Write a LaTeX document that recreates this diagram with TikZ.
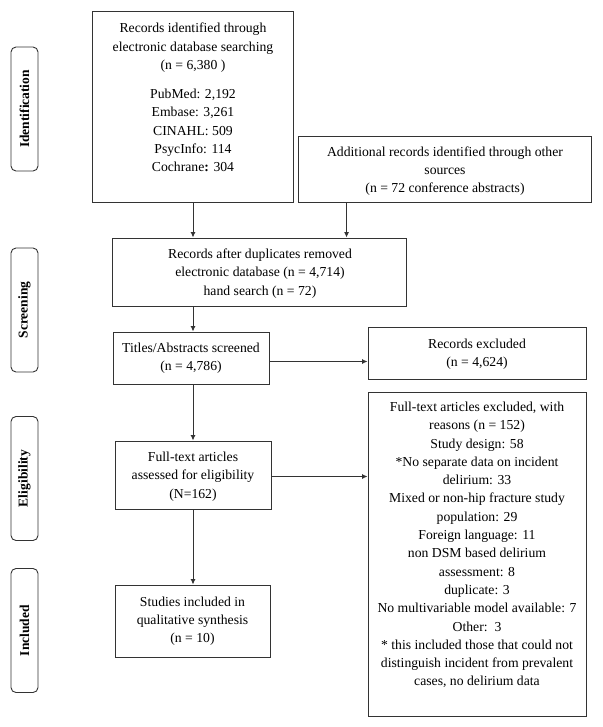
\documentclass[tikz,border=0pt]{standalone}
\usepackage{fontspec}
\setmainfont{Liberation Serif}
\usetikzlibrary{arrows.meta,fit}
\definecolor{lc}{HTML}{333333}
\begin{document}
\begin{tikzpicture}[x=1pt,y=-1pt,
  txt/.style={font={\fontsize{13.7}{18.3}\selectfont}, align=center, inner sep=0pt, text=black},
  boxx/.style={draw=lc, line width=0.9pt, inner sep=0pt},
  lab/.style={draw=lc, line width=0.9pt, rounded corners=5pt, minimum width=27pt, minimum height=124pt, inner sep=0pt},
  labt/.style={font={\fontsize{13.5}{16}\selectfont\bfseries}, rotate=90, inner sep=0pt},
  arr/.style={draw=lc, line width=0.9pt, -{Latex[length=5.5pt,width=5pt]}}]
\useasboundingbox (0,0) rectangle (602,727);

% side labels
\node[lab] (l1) at (24.5,109) {};
\node[labt] (l1t) at (l1.center) {Identification};
\node[lab] (l2) at (24.5,310) {};
\node[labt] (l2t) at (l2.center) {Screening};
\node[lab] (l3) at (24.5,478.5) {};
\node[labt] (l3t) at (l3.center) {Eligibility};
\node[lab] (l4) at (24.5,630.5) {};
\node[labt] (l4t) at (l4.center) {Included};

% boxes
\node[boxx, fit={(92,11) (293,202)}] (b1) {};
\node[boxx, fit={(298,136) (591,202)}] (b2) {};
\node[boxx, fit={(112,238) (406,306)}] (b3) {};
\node[boxx, fit={(113,332) (269,384)}] (b4) {};
\node[boxx, fit={(368,327) (586,379)}] (b5) {};
\node[boxx, fit={(368,392) (586,716)}] (b6) {};
\node[boxx, fit={(115,441) (271,509)}] (b7) {};
\node[boxx, fit={(115,585) (270,657)}] (b8) {};

% texts
\node[txt] (t1) at (193,97.5) {Records identified through\\electronic database searching\\(n = 6,380 )\\[10.7pt]PubMed: 2,192\\Embase: 3,261\\CINAHL: 509\\PsycInfo: 114\\Cochrane\textbf{:} 304};
\node[txt] (t2) at (445,171) {Additional records identified through other\\sources\\(n = 72 conference abstracts)};
\node[txt] (t3) at (260,273.5) {Records after duplicates removed\\electronic database (n = 4,714)\\hand search (n = 72)};
\node[txt] (t4) at (191,358.5) {Titles/Abstracts screened\\(n = 4,786)};
\node[txt] (t5) at (477,354) {Records excluded\\(n = 4,624)};
\node[txt] (t6) at (477,545) {Full-text articles excluded, with\\reasons (n = 152)\\Study design: 58\\*No separate data on incident\\delirium: 33\\Mixed or non-hip fracture study\\population: 29\\Foreign language: 11\\non DSM based delirium\\assessment: 8\\duplicate: 3\\No multivariable model available: 7\\Other:\ \ 3\\* this included those that could not\\distinguish incident from prevalent\\cases, no delirium data};
\node[txt] (t7) at (193,476.5) {Full-text articles\\assessed for eligibility\\(N=162)};
\node[txt] (t8) at (192.5,621) {Studies included in\\qualitative synthesis\\(n = 10)};

% connectors
\coordinate (c1) at ([xshift=0.5pt]b1.south);
\coordinate (c2) at ([xshift=49pt]b2.south west);
\draw[arr] (c1) -- (c1 |- b3.north);
\draw[arr] (c2) -- (c2 |- b3.north);
\draw[arr] (c1 |- b3.south) -- (c1 |- b4.north);
\coordinate (c4) at ([yshift=-3.5pt]b4.east);
\draw[arr] (c4) -- (c4 -| b5.west);
\draw[arr] (c1 |- b4.south) -- (c1 |- b7.north);
\coordinate (c7) at ([yshift=-1.5pt]b7.east);
\draw[arr] (c7) -- (c7 -| b6.west);
\draw[arr] (c1 |- b7.south) -- (c1 |- b8.north);
\end{tikzpicture}
\end{document}
